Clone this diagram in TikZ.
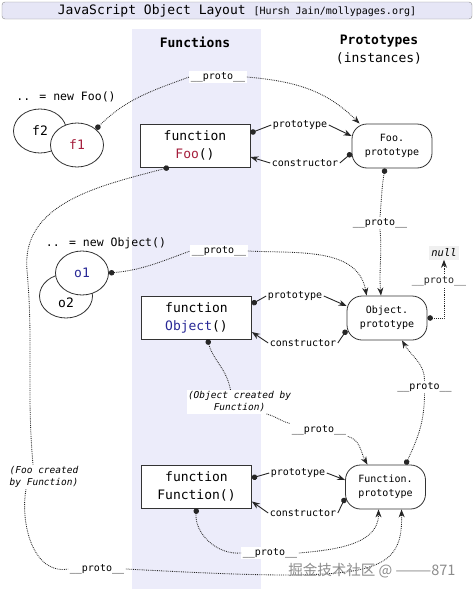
\documentclass[tikz,border=0pt]{standalone}
\usepackage{fontspec}
\setmainfont{DejaVu Sans Mono}
\newfontfamily\cjkfont{Noto Sans CJK SC}
\usepackage{xcolor}
\usetikzlibrary{arrows.meta,positioning,shapes.geometric,calc}

\definecolor{colfill}{RGB}{236,236,250}
\definecolor{titlefill}{RGB}{230,230,246}
\definecolor{fooRed}{RGB}{165,30,60}
\definecolor{objBlue}{RGB}{40,40,150}

\tikzset{
  bdot/.tip={Circle[length=5.5pt]},
  barr/.tip={Stealth[length=8pt,width=6pt]},
  fnbox/.style={draw=black!80, line width=0.8pt, fill=white, minimum width=110pt, minimum height=43pt, align=center, font=\fontsize{13}{18}\selectfont, inner sep=0pt},
  protobox/.style={draw=black!80, line width=0.8pt, fill=white, rounded corners=15pt, minimum width=80pt, minimum height=44pt, align=center, font=\fontsize{10}{14}\selectfont, inner sep=0pt},
  inst/.style={ellipse, draw=black!80, line width=0.8pt, fill=white, minimum width=53pt, minimum height=44pt, font=\fontsize{13}{15}\selectfont, inner sep=0pt},
  lbl/.style={fill=white, inner sep=1.5pt, font=\fontsize{10}{12}\selectfont},
  note/.style={fill=white, inner sep=1.5pt, align=center, font=\itshape\fontsize{9.5}{12}\selectfont},
  linkline/.style={line width=0.9pt, black!85},
  protoline/.style={line width=0.85pt, densely dotted, black!85},
}

\begin{document}
\begin{tikzpicture}[x=1pt,y=1pt]
    \useasboundingbox (0,0) rectangle (474,-589);

    % Title and column
    \node[draw=black!45, fill=titlefill, rounded corners=3pt, minimum width=470pt, minimum height=17pt, inner sep=0pt] (title) at (237,-10.5)
        {\fontsize{13}{15}\selectfont JavaScript Object Layout \fontsize{10}{12}\selectfont[Hursh Jain/mollypages.org]};
    \fill[colfill] (132,-29) rectangle (261,-589);
    \node[font=\bfseries\fontsize{13}{15}\selectfont] (hdrFn) at (195,-42) {Functions};
    \node[align=center, font=\fontsize{13}{18}\selectfont] (hdrProto) at (379,-50) {\textbf{Prototypes}\\(instances)};

    % Foo instances
    \node[font=\fontsize{11.5}{14}\selectfont] (newFoo) at (66,-97) {.. = new Foo()};
    \node[inst] (f2) at (40,-131) {f2};
    \node[inst, text=fooRed] (f1) at (77,-145) {f1};

    % Object instances
    \node[font=\fontsize{11.5}{14}\selectfont] (newObj) at (106,-243) {.. = new Object()};
    \node[inst, text height=23pt, text depth=0pt] (o2) at (66,-296) {o2};
    \node[inst, text=objBlue] (o1) at (82,-273) {o1};

    % Functions
    \node[fnbox] (fooFn) at (195,-145.5) {function\\\textcolor{fooRed}{Foo}()};
    \node[fnbox] (objFn) at (196.5,-317.5) {function\\\textcolor{objBlue}{Object}()};
    \node[fnbox] (fnFn) at (196.5,-486.5) {function\\Function()};

    % Prototypes
    \node[protobox] (fooProto) at (392,-146) {Foo.\\prototype};
    \node[protobox] (objProto) at (387,-318) {Object.\\prototype};
    \node[protobox] (fnProto) at (385.5,-487) {Function.\\prototype};
    \node[fill=black!6, inner sep=2.5pt, font=\itshape\fontsize{10.5}{12}\selectfont] (nullN) at (444,-253) {null};

    % Labels
    \node[lbl] (protoA) at (218,-77) {\_\_proto\_\_};
    \node[lbl] (protoB) at (380,-223) {\_\_proto\_\_};
    \node[lbl] (protoC) at (219,-251) {\_\_proto\_\_};
    \node[lbl] (protoF) at (319,-430) {\_\_proto\_\_};
    \node[lbl] (protoG) at (424.5,-387) {\_\_proto\_\_};
    \node[lbl] (protoH) at (270,-553) {\_\_proto\_\_};
    \node[lbl] (protoD) at (97,-569) {\_\_proto\_\_};
    \node[lbl] (ptLblA) at (300,-125) {prototype};
    \node[lbl] (csLblA) at (305,-163) {constructor};
    \node[lbl] (ptLblB) at (295,-296) {prototype};
    \node[lbl] (csLblB) at (303,-343) {constructor};
    \node[lbl] (ptLblC) at (298,-473) {prototype};
    \node[lbl] (csLblC) at (303,-513) {constructor};
    \node[note] (objBy) at (239.5,-402) {(Object created by\\Function)};
    \node[note] (fooBy) at (44,-477) {(Foo created\\by Function)};

    % prototype / constructor links
    \draw[linkline, {bdot}-] ([yshift=12.5pt]fooFn.east) -- (ptLblA.west);
    \draw[linkline, -{barr}] (ptLblA.east) -- ([yshift=10pt]fooProto.west);
    \draw[linkline, {bdot}-] ([yshift=-7pt]fooProto.west) -- (csLblA.east);
    \draw[linkline, -{barr}] (csLblA.west) -- ([yshift=-11.5pt]fooFn.east);

    \draw[linkline, {bdot}-] ([yshift=13.5pt]objFn.east) -- (ptLblB.west);
    \draw[linkline, -{barr}] (ptLblB.east) -- ([yshift=12pt]objProto.west);
    \draw[linkline, {bdot}-] ([yshift=-12pt]objProto.west) -- (csLblB.east);
    \draw[linkline, -{barr}] (csLblB.west) -- ([yshift=-14.5pt]objFn.east);

    \draw[linkline, {bdot}-] ([yshift=8.5pt]fnFn.east) -- (ptLblC.west);
    \draw[linkline, -{barr}] (ptLblC.east) -- ([yshift=7pt]fnProto.west);
    \draw[linkline, {bdot}-] ([yshift=-11pt]fnProto.west) -- (csLblC.east);
    \draw[linkline, -{barr}] (csLblC.west) -- ([yshift=-15pt]fnFn.east);

    % __proto__ of the instances
    \draw[protoline, {bdot}-] (f1.40) to[out=45,in=200] (protoA.west);
    \draw[protoline, -{barr}] (protoA.east) to[out=-5,in=135] ([xshift=8pt]fooProto.north west);
    \draw[protoline, {bdot}-] (o1.east) to[out=5,in=200] (protoC.west);
    \draw[protoline, -{barr}] (protoC.east) to[out=-3,in=100] ([xshift=20pt]objProto.north west);

    % __proto__ of the prototypes
    \draw[protoline, {bdot}-] ([xshift=-7pt]fooProto.south) to[out=-100,in=85] (protoB.north);
    \draw[protoline, -{barr}] (protoB.south) to[out=-85,in=95] ([xshift=-6pt]objProto.north);
    \draw[protoline, {bdot}-{barr}] (objProto.east) -| node[lbl, pos=0.82, xshift=-5pt] (protoE) {\_\_proto\_\_} (nullN.south);
    \draw[protoline, {bdot}-] ([xshift=20pt]fnProto.north) to[out=65,in=-90] (protoG.south);
    \draw[protoline, -{barr}] (protoG.north) to[out=90,in=-60] ([xshift=15pt]objProto.south);

    % __proto__ of the functions
    \draw[protoline, {bdot}-] ([xshift=-26pt]fooFn.south) to[out=195,in=95] (27,-270) to[out=-85,in=95] ([xshift=-11pt]fooBy.north);
    \draw[protoline] ([xshift=-18pt]fooBy.south) to[out=-100,in=190] (protoD.west);
    \draw[protoline, -{barr}] (protoD.east) .. controls (370,-582) and (403,-578) .. ([xshift=16pt]fnProto.south);
    \draw[protoline, {bdot}-] ([xshift=11pt]objFn.south) to[out=-75,in=100] ([xshift=-9pt]objBy.north);
    \draw[protoline] ([xshift=27pt]objBy.south) to[out=-15,in=165] (protoF.north west);
    \draw[protoline, -{barr}] (protoF.south east) to[out=-15,in=120] ([xshift=-18pt]fnProto.north);
    \draw[protoline, {bdot}-] (fnFn.south) to[out=-95,in=185] (protoH.west);
    \draw[protoline, -{barr}] (protoH.east) to[out=5,in=-90] ([xshift=-7pt]fnProto.south);

    % Watermark
    \node[text=black!45, font=\cjkfont\fontsize{14.5}{16}\selectfont] (wm) at (372,-571) {掘金技术社区 @ ———871};
\end{tikzpicture}
\end{document}
